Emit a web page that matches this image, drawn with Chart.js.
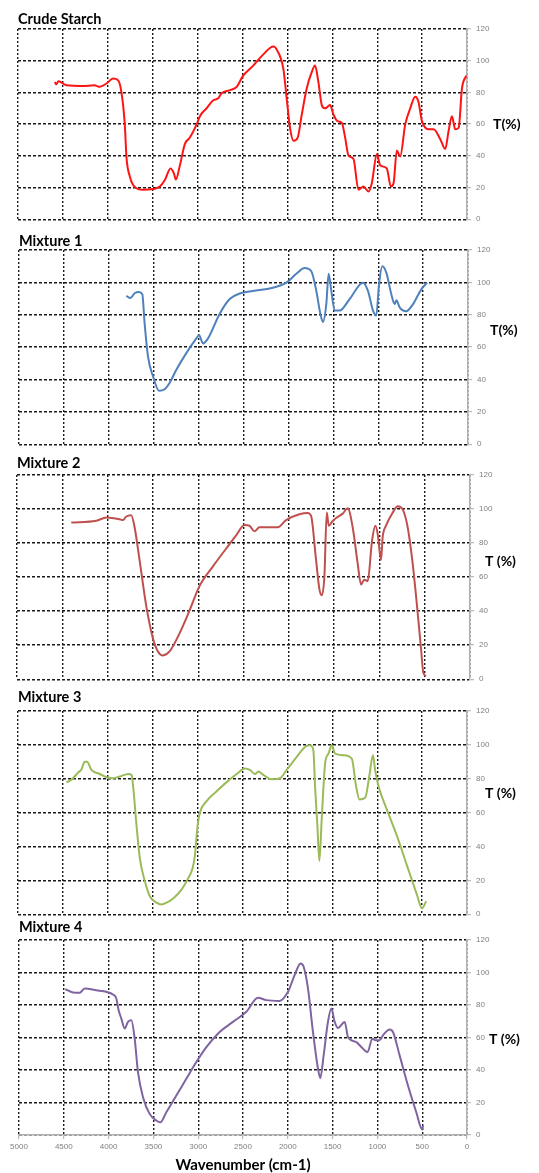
<!DOCTYPE html>
<html>
<head>
<meta charset="utf-8">
<script src="https://cdn.jsdelivr.net/npm/chart.js@4.4.1/dist/chart.umd.min.js"></script>
<style>
  html, body { margin: 0; padding: 0; background: #fff; }
  #wrap { position: relative; width: 539px; height: 1173px; overflow: hidden; }
  #wrap canvas { position: absolute; left: 0; }
</style>
</head>
<body>
<div id="wrap"></div>
<script>
// FTIR spectra: wavenumber (cm-1) and transmittance T (%)
const starchWn = [4590, 4575, 4550, 4461, 4275, 4150, 4089, 4015, 3941, 3885, 3848, 3811, 3792, 3755, 3718, 3606, 3495, 3420, 3365, 3301, 3264, 3242, 3197, 3142, 3086, 3011, 2974, 2900, 2826, 2770, 2733, 2640, 2565, 2491, 2380, 2268, 2157, 2119, 2045, 2008, 1971, 1933, 1885, 1840, 1785, 1729, 1692, 1655, 1617, 1580, 1525, 1487, 1443, 1394, 1357, 1320, 1264, 1209, 1153, 1097, 1060, 1004, 967, 893, 848, 818, 781, 744, 688, 632, 577, 540, 502, 428, 372, 298, 242, 205, 168, 131, 93, 56, 8];
const starchT = [86.6, 85, 87, 84.5, 84, 84.5, 83.5, 85.6, 88.7, 87.6, 80, 60, 39, 27, 21.6, 18.6, 19, 20.6, 24.7, 32, 28.9, 25, 34, 47.4, 51.5, 59.8, 65, 70, 75, 76.3, 79.4, 81.4, 83.5, 90.7, 96.9, 104, 108.9, 107, 94.8, 76.3, 57.7, 49.5, 51.5, 66, 82.5, 92.8, 96.9, 86.6, 72, 70, 72, 66, 61.9, 60.8, 51.5, 40.2, 38, 18.6, 20.6, 17.5, 22.7, 41, 34, 32, 20.6, 22.7, 43.3, 39.6, 59.8, 70, 77.3, 74, 61.9, 56.7, 56.7, 50.5, 44.3, 55.7, 65, 56.7, 57.7, 82.5, 90.7];

const mix1Wn = [3805, 3760, 3712, 3664, 3627, 3601, 3563, 3508, 3441, 3378, 3322, 3248, 3137, 3025, 2995, 2951, 2895, 2765, 2654, 2543, 2394, 2209, 2023, 1912, 1819, 1745, 1689, 1644, 1615, 1578, 1552, 1522, 1485, 1429, 1318, 1169, 1114, 1058, 1021, 991, 954, 909, 854, 817, 798, 761, 687, 612, 520, 456];
const mix1T = [91.7, 90.3, 93.3, 94, 92.7, 74.5, 54, 42, 33, 34, 38, 46, 56.3, 65.4, 67.4, 62.3, 65.4, 80.6, 89.7, 93.1, 94.7, 96.2, 99.8, 105.3, 108.9, 106.9, 94.7, 80.6, 75.5, 86.6, 105.3, 94.7, 82.6, 82.6, 89.7, 99.8, 94.7, 82.6, 79.6, 98.8, 110, 105.9, 92.7, 86.6, 89, 84.6, 82.2, 86.6, 95.7, 99.8];

const mix2Wn = [4401, 4125, 4015, 3868, 3831, 3794, 3739, 3702, 3647, 3574, 3500, 3445, 3390, 3316, 3206, 3096, 2986, 2839, 2691, 2581, 2489, 2434, 2379, 2324, 2122, 2030, 1883, 1791, 1754, 1699, 1662, 1636, 1607, 1581, 1559, 1515, 1460, 1405, 1350, 1295, 1240, 1203, 1166, 1129, 1081, 1045, 1019, 982, 964, 927, 853, 798, 743, 688, 633, 578, 541, 515, 486];
const mix2T = [92.1, 93.1, 95, 94, 93.5, 95.6, 96.4, 89.3, 70, 43.2, 24, 16.3, 14, 16.3, 26.9, 40.3, 54.7, 66.2, 76.8, 84.5, 90.6, 90.2, 86.9, 89.3, 89.3, 93.5, 96.9, 97.7, 96, 70, 52.8, 49.3, 60.5, 97.9, 90.2, 93, 95.4, 97.3, 100.4, 89.3, 68.1, 55.7, 58.5, 57.6, 81.6, 90.2, 85.4, 70, 83.5, 90.2, 97.9, 101.7, 99.8, 89.3, 68.1, 39.3, 18.2, 3.8, 1.9];

const mix3Wn = [4461, 4405, 4331, 4294, 4257, 4231, 4182, 4089, 4015, 3941, 3866, 3773, 3736, 3718, 3680, 3643, 3587, 3532, 3457, 3402, 3346, 3272, 3179, 3104, 3056, 3030, 3000, 2974, 2900, 2788, 2677, 2565, 2472, 2417, 2361, 2324, 2268, 2175, 2082, 2008, 1896, 1803, 1748, 1711, 1692, 1666, 1644, 1618, 1580, 1543, 1506, 1469, 1376, 1283, 1235, 1197, 1134, 1086, 1048, 1023, 985, 893, 781, 670, 558, 502, 454];
const mix3T = [77.8, 79.4, 83.6, 85.5, 90, 90, 85.2, 82.8, 80.9, 80.3, 81.3, 82.8, 82.3, 75.5, 52.3, 32.9, 19.4, 10.6, 6.8, 5.8, 6.8, 9.3, 14.5, 21.3, 27.1, 34.8, 52.3, 60, 66.8, 72.6, 78, 82.8, 86.1, 85.2, 82.8, 84.2, 82.3, 79.7, 80.3, 85.2, 92.9, 98.7, 99.7, 96.8, 75.5, 52.3, 31.4, 56.1, 89, 94.8, 99.7, 94.8, 93.9, 91.9, 75.5, 67.7, 68.7, 82.3, 93.9, 85.2, 75.5, 61.9, 46.4, 29, 11.6, 3.5, 7.7];

const mix4Wn = [4483, 4397, 4323, 4267, 4137, 4025, 3951, 3914, 3888, 3858, 3821, 3784, 3746, 3709, 3672, 3616, 3542, 3467, 3423, 3356, 3244, 3133, 3021, 2909, 2761, 2612, 2463, 2333, 2240, 2091, 1998, 1924, 1857, 1823, 1775, 1719, 1663, 1637, 1600, 1552, 1514, 1477, 1440, 1365, 1328, 1235, 1179, 1110, 1057, 1020, 975, 938, 863, 826, 752, 659, 566, 499, 491];
const mix4T = [89.7, 87.7, 87.5, 90.2, 89.1, 88.1, 86.5, 84, 76.8, 71.6, 65.5, 69.6, 70.6, 59.3, 38.7, 23.3, 13, 8.9, 7.8, 14, 24.3, 34.6, 44.9, 54.1, 63.4, 69.6, 75.8, 84.4, 83, 82.5, 88.1, 98.4, 105.6, 103.5, 90.2, 63.4, 40.8, 35, 49, 69.6, 77.8, 69.6, 65.9, 69.6, 60.3, 57.2, 54.1, 51, 59.3, 58.3, 58.3, 61.3, 65, 63.4, 49, 30.5, 14, 3.3, 5.8];

const xTicks = [5000, 4500, 4000, 3500, 3000, 2500, 2000, 1500, 1000, 500, 0];
const yTicks = [0, 20, 40, 60, 80, 100, 120];

const BOLD = 'Lato, "Liberation Sans", sans-serif';
const TITLE_LINE = 17;

// where each panel's plot area sits on the page
const panels = [
  { title: 'Crude Starch', wn: starchWn, t: starchT, color: '#ff1414', unit: 'T(%)', unitX: 493, unitAt: 60, top: 29, bottom: 223, left: 18, right: 467, gap: 1 },
  { title: 'Mixture 1', wn: mix1Wn, t: mix1T, color: '#4f81bd', unit: 'T(%)', unitX: 490, unitAt: 70, top: 250, bottom: 448, left: 19, right: 468, gap: 0 },
  { title: 'Mixture 2', wn: mix2Wn, t: mix2T, color: '#c0504d', unit: 'T (%)', unitX: 485, unitAt: 69, top: 475, bottom: 683, left: 17, right: 470, gap: 3 },
  { title: 'Mixture 3', wn: mix3Wn, t: mix3T, color: '#9bbb59', unit: 'T (%)', unitX: 485, unitAt: 71, top: 711, bottom: 918, left: 18, right: 467, gap: 5 },
  { title: 'Mixture 4', wn: mix4Wn, t: mix4T, color: '#8064a2', unit: 'T (%)', unitX: 489, unitAt: 59, top: 940, bottom: 1135, left: 19, right: 467, gap: 4, last: true }
];

// horizontal "T (%)" label beside the right axis
const unitLabel = {
  id: 'unitLabel',
  afterDraw(chart, args, opts) {
    const ctx = chart.ctx;
    const y = chart.scales.y.getPixelForValue(opts.at);
    ctx.save();
    ctx.font = 'bold 14px ' + BOLD;
    ctx.fillStyle = '#000';
    ctx.textBaseline = 'middle';
    ctx.textAlign = 'left';
    ctx.fillText(opts.text, opts.x, y);
    ctx.restore();
  }
};

const wrap = document.getElementById('wrap');
const tickFont = { family: '"Liberation Sans", Arial, sans-serif', size: 8 };

panels.forEach(p => {
  const titleH = TITLE_LINE + p.gap;
  const bottomH = p.last ? 1173 - p.bottom : 6;
  const canvas = document.createElement('canvas');
  canvas.width = 539;
  canvas.height = titleH + (p.bottom - p.top) + bottomH;
  canvas.style.top = (p.top - titleH) + 'px';
  wrap.appendChild(canvas);

  new Chart(canvas.getContext('2d'), {
    type: 'line',
    data: {
      datasets: [{
        data: p.wn.map((w, i) => ({ x: w, y: p.t[i] })),
        borderColor: p.color,
        borderWidth: 2,
        pointRadius: 0,
        cubicInterpolationMode: 'monotone',
        fill: false
      }]
    },
    options: {
      responsive: false,
      animation: false,
      layout: { padding: { left: p.left, right: 0, top: 0, bottom: 0 } },
      plugins: {
        legend: { display: false },
        tooltip: { enabled: false },
        title: {
          display: true,
          text: p.title,
          align: 'start',
          color: '#000',
          font: { family: BOLD, size: 14.5, weight: 'bold', lineHeight: TITLE_LINE + 'px' },
          padding: { top: 0, bottom: p.gap }
        },
        unitLabel: { text: p.unit, x: p.unitX, at: p.unitAt }
      },
      scales: {
        x: {
          type: 'linear',
          reverse: true,
          min: 0,
          max: 5000,
          afterBuildTicks: s => { s.ticks = xTicks.map(v => ({ value: v })); },
          afterFit: s => { s.height = bottomH; },
          grid: {
            color: '#1a1a1a',
            lineWidth: 1.4,
            drawTicks: !!p.last,
            tickLength: 4,
            tickColor: '#aaa',
            tickWidth: 1
          },
          border: { display: !!p.last, color: '#b0b0b0', width: 1.5, dash: [2, 2] },
          ticks: {
            display: !!p.last,
            color: '#808080',
            font: tickFont,
            padding: 3,
            maxRotation: 0,
            autoSkip: false,
            callback: v => String(v)
          },
          title: {
            display: !!p.last,
            text: 'Wavenumber (cm-1)',
            color: '#000',
            font: { family: BOLD, size: 15, weight: 'bold', lineHeight: '16px' },
            padding: { top: 0, bottom: 0 }
          }
        },
        y: {
          position: 'right',
          min: 0,
          max: 120,
          afterBuildTicks: s => { s.ticks = yTicks.map(v => ({ value: v })); },
          afterFit: s => { s.width = 539 - p.right; },
          grid: {
            color: '#1a1a1a',
            lineWidth: 1.4,
            tickLength: 4,
            tickColor: '#aaa',
            tickWidth: 1
          },
          border: { display: true, color: '#b0b0b0', width: 1.5, dash: [3, 2] },
          ticks: {
            color: '#808080',
            font: tickFont,
            padding: 5,
            callback: v => String(v)
          }
        }
      }
    },
    plugins: [unitLabel]
  });
});
</script>
</body>
</html>
